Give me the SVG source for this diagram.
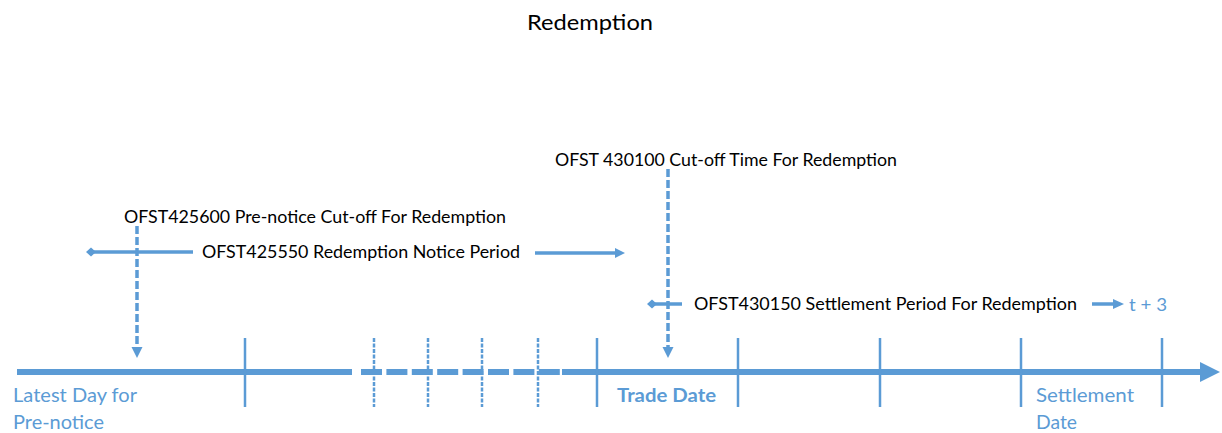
<svg xmlns="http://www.w3.org/2000/svg" width="1222" height="433" viewBox="0 0 1222 433">
<style>
text{font-family:Lato,"Open Sans","Liberation Sans",sans-serif}
.lbl{font-size:17px;fill:#000}
.blue{fill:#5B9BD5}
.ax{stroke:#5B9BD5;stroke-width:6;fill:none}
.tick{stroke:#5B9BD5;stroke-width:2.5;fill:none}
.dtick{stroke:#5B9BD5;stroke-width:2.5;fill:none;stroke-dasharray:4 1.5}
.harr{stroke:#5B9BD5;stroke-width:3.5;fill:none}
.varr{stroke:#5B9BD5;stroke-width:3.5;fill:none;stroke-dasharray:8 3}
.head{fill:#5B9BD5}
</style>
<rect width="1222" height="433" fill="#fff"/>
<g id="title"><text x="527" y="30" font-size="22" textLength="126" lengthAdjust="spacingAndGlyphs">Redemption</text></g>
<g id="connectors">
<line class="ax" x1="17" y1="372" x2="352" y2="372"/>
<line class="ax" x1="361" y1="372" x2="560" y2="372" style="stroke-dasharray:21 4.4"/>
<line class="ax" x1="562" y1="372" x2="1202" y2="372"/>
<polygon class="head" points="1200,362 1220,372 1200,382"/>
<line class="tick" x1="245" y1="338" x2="245" y2="407"/>
<line class="dtick" x1="374" y1="338" x2="374" y2="407"/>
<line class="dtick" x1="428" y1="338" x2="428" y2="407"/>
<line class="dtick" x1="482" y1="338" x2="482" y2="407"/>
<line class="dtick" x1="538" y1="338" x2="538" y2="407"/>
<line class="tick" x1="597" y1="338" x2="597" y2="407"/>
<line class="tick" x1="738" y1="338" x2="738" y2="407"/>
<line class="tick" x1="880" y1="338" x2="880" y2="407"/>
<line class="tick" x1="1021" y1="338" x2="1021" y2="407"/>
<line class="tick" x1="1162" y1="338" x2="1162" y2="407"/>
<line class="varr" x1="137" y1="226" x2="137" y2="348"/>
<polygon class="head" points="131.5,347 142.5,347 137,358"/>
<line class="varr" x1="668" y1="169" x2="668" y2="348"/>
<polygon class="head" points="662.5,347 673.5,347 668,358"/>
<line class="harr" x1="92" y1="252" x2="193" y2="252"/>
<polygon class="head" points="86,252 91,247.5 96,252 91,256.5"/>
<line class="harr" x1="535" y1="253" x2="616" y2="253"/>
<polygon class="head" points="615,248 625,253 615,258"/>
<line class="harr" x1="653" y1="304" x2="682" y2="304"/>
<polygon class="head" points="647,304 652,299.5 657,304 652,308.5"/>
<line class="harr" x1="1092" y1="304" x2="1114" y2="304"/>
<polygon class="head" points="1113,299 1124,304 1113,309"/>
</g>
<g id="n-prenotice-cutoff"><text class="lbl" x="124" y="223" textLength="382" lengthAdjust="spacingAndGlyphs">OFST425600 Pre-notice Cut-off For Redemption</text></g>
<g id="n-notice-period"><text class="lbl" x="202" y="258" textLength="318" lengthAdjust="spacingAndGlyphs">OFST425550 Redemption Notice Period</text></g>
<g id="n-cutoff-time"><text class="lbl" x="555" y="166" textLength="342" lengthAdjust="spacingAndGlyphs">OFST 430100 Cut-off Time For Redemption</text></g>
<g id="n-settlement-period"><text class="lbl" x="694" y="310" textLength="383" lengthAdjust="spacingAndGlyphs">OFST430150 Settlement Period For Redemption</text></g>
<g id="n-t3"><text class="blue" x="1129" y="311" font-size="17" textLength="38" lengthAdjust="spacingAndGlyphs">t + 3</text></g>
<g id="n-latest-day"><text class="blue" font-size="19"><tspan x="13" y="402" textLength="124" lengthAdjust="spacingAndGlyphs">Latest Day for</tspan><tspan x="13" y="429" textLength="91" lengthAdjust="spacingAndGlyphs">Pre-notice</tspan></text></g>
<g id="n-trade-date"><text class="blue" x="617" y="402" font-size="19" font-weight="bold" textLength="99" lengthAdjust="spacingAndGlyphs">Trade Date</text></g>
<g id="n-settlement-date"><text class="blue" font-size="19"><tspan x="1036" y="402" textLength="98" lengthAdjust="spacingAndGlyphs">Settlement</tspan><tspan x="1036" y="429" textLength="41" lengthAdjust="spacingAndGlyphs">Date</tspan></text></g>
</svg>
